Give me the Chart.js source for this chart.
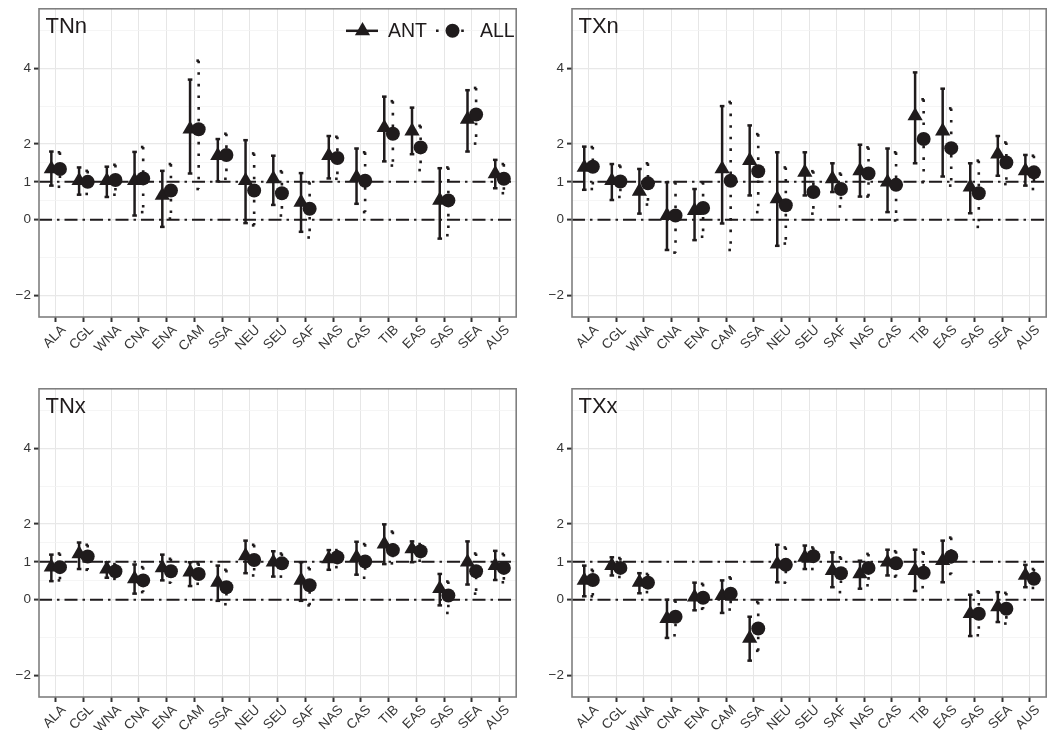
<!DOCTYPE html>
<html>
<head>
<meta charset="utf-8">
<script src="https://cdn.jsdelivr.net/npm/chart.js@4/dist/chart.umd.min.js"></script>
<style>
  html, body { margin: 0; padding: 0; background: #fff; }
  #wrap { position: relative; width: 1055px; height: 730px; }
  canvas { position: absolute; }
</style>
</head>
<body>
<div id="wrap">
  <canvas id="pTNn" width="525" height="365" style="left:0;top:0"></canvas>
  <canvas id="pTXn" width="525" height="365" style="left:530px;top:0"></canvas>
  <canvas id="pTNx" width="525" height="350" style="left:0;top:380px"></canvas>
  <canvas id="pTXx" width="525" height="350" style="left:530px;top:380px"></canvas>
</div>
<script>
// ----- data -----
const regions = ['ALA', 'CGL', 'WNA', 'CNA', 'ENA', 'CAM', 'SSA', 'NEU', 'SEU', 'SAF', 'NAS', 'CAS', 'TIB', 'EAS', 'SAS', 'SEA', 'AUS'];
const yMajor = [-2, 0, 1, 2, 4];
const yMinor = [-1, 0.5, 1.5, 3, 5];
const refLines = [0, 1];

// TNn
const tnnAnt   = [1.34, 1.03, 1.03, 1.03, 0.64, 2.39, 1.69, 1.03, 1.08, 0.46, 1.69, 1.12, 2.43, 2.34, 0.51, 2.65, 1.21];
const tnnAntLo = [0.90, 0.66, 0.60, 0.11, -0.19, 1.22, 1.01, -0.09, 0.39, -0.32, 1.09, 0.42, 1.54, 1.73, -0.50, 1.80, 0.83];
const tnnAntHi = [1.80, 1.38, 1.40, 1.79, 1.29, 3.70, 2.13, 2.10, 1.69, 1.23, 2.21, 1.88, 3.25, 2.96, 1.36, 3.42, 1.58];
const tnnAll   = [1.34, 1.00, 1.05, 1.09, 0.77, 2.39, 1.71, 0.77, 0.70, 0.29, 1.63, 1.03, 2.27, 1.91, 0.51, 2.78, 1.08];
const tnnAllLo = [0.87, 0.68, 0.66, 0.20, 0.03, 0.81, 1.08, -0.15, 0.11, -0.47, 1.08, 0.20, 1.43, 1.31, -0.41, 2.01, 0.70];
const tnnAllHi = [1.78, 1.29, 1.45, 1.92, 1.47, 4.20, 2.27, 1.75, 1.28, 0.99, 2.19, 1.78, 3.13, 2.48, 1.38, 3.48, 1.47];

// TXn
const txnAnt   = [1.38, 1.03, 0.75, 0.11, 0.24, 1.34, 1.56, 0.55, 1.25, 1.08, 1.29, 0.99, 2.74, 2.34, 0.86, 1.73, 1.29];
const txnAntLo = [0.79, 0.52, 0.16, -0.80, -0.54, -0.10, 0.64, -0.69, 0.64, 0.73, 0.61, 0.20, 1.49, 1.14, 0.17, 1.16, 0.90];
const txnAntHi = [1.93, 1.47, 1.34, 0.99, 0.81, 3.00, 2.49, 1.78, 1.78, 1.49, 1.98, 1.88, 3.89, 3.46, 1.49, 2.21, 1.71];
const txnAll   = [1.40, 1.01, 0.96, 0.11, 0.31, 1.03, 1.28, 0.38, 0.73, 0.81, 1.22, 0.92, 2.13, 1.89, 0.70, 1.51, 1.25];
const txnAllLo = [0.81, 0.60, 0.40, -0.87, -0.45, -0.80, 0.20, -0.63, 0.16, 0.35, 0.61, -0.02, 0.99, 0.90, -0.19, 0.94, 0.81];
const txnAllHi = [1.92, 1.43, 1.49, 0.99, 0.99, 3.11, 2.26, 1.38, 1.28, 1.22, 1.91, 1.78, 3.18, 2.94, 1.56, 2.04, 1.69];

// TNx
const tnxAnt   = [0.86, 1.21, 0.81, 0.55, 0.84, 0.73, 0.46, 1.16, 0.99, 0.51, 1.08, 1.12, 1.47, 1.34, 0.29, 0.99, 0.90];
const tnxAntLo = [0.49, 0.81, 0.58, 0.16, 0.51, 0.36, -0.03, 0.70, 0.61, -0.03, 0.79, 0.66, 0.94, 0.99, -0.15, 0.40, 0.52];
const tnxAntHi = [1.19, 1.51, 0.99, 0.93, 1.19, 0.99, 0.90, 1.56, 1.28, 0.99, 1.31, 1.53, 1.99, 1.54, 0.68, 1.54, 1.29];
const tnxAll   = [0.86, 1.14, 0.75, 0.51, 0.75, 0.68, 0.33, 1.05, 0.96, 0.38, 1.12, 1.01, 1.31, 1.28, 0.11, 0.75, 0.84];
const tnxAllLo = [0.51, 0.79, 0.55, 0.20, 0.45, 0.42, -0.12, 0.64, 0.61, -0.15, 0.86, 0.58, 0.96, 1.03, -0.35, 0.16, 0.46];
const tnxAllHi = [1.22, 1.45, 0.94, 0.86, 1.08, 0.96, 0.79, 1.45, 1.22, 0.84, 1.31, 1.47, 1.80, 1.47, 0.48, 1.22, 1.21];

// TXx
const txxAnt   = [0.51, 0.90, 0.46, -0.50, 0.07, 0.11, -1.02, 0.94, 1.12, 0.77, 0.68, 0.99, 0.77, 1.03, -0.37, -0.19, 0.64];
const txxAntLo = [0.09, 0.64, 0.17, -1.01, -0.28, -0.35, -1.61, 0.46, 0.81, 0.33, 0.29, 0.64, 0.23, 0.46, -0.96, -0.59, 0.33];
const txxAntHi = [0.90, 1.12, 0.70, 0.00, 0.45, 0.51, -0.45, 1.45, 1.43, 1.25, 1.03, 1.32, 1.32, 1.56, 0.13, 0.20, 0.92];
const txxAll   = [0.52, 0.84, 0.45, -0.45, 0.05, 0.16, -0.76, 0.92, 1.15, 0.70, 0.84, 0.96, 0.71, 1.14, -0.37, -0.24, 0.55];
const txxAllLo = [0.09, 0.60, 0.20, -0.94, -0.24, -0.26, -1.35, 0.45, 0.81, 0.20, 0.38, 0.61, 0.33, 0.68, -0.94, -0.63, 0.31];
const txxAllHi = [0.79, 1.10, 0.68, -0.02, 0.42, 0.59, -0.06, 1.38, 1.38, 1.12, 1.21, 1.28, 1.25, 1.64, 0.22, 0.18, 0.81];

// ----- look -----
const INK = '#1f1b1c';
const DODGE = 0.155;
const TRI_R = 8.8;
const DOT_R = 7;
const FONT = "'Liberation Sans', Arial, Helvetica, sans-serif";

Chart.defaults.font.family = FONT;
Chart.defaults.animation = false;

function fmtTick(v) {
  if (!yMajor.includes(v)) return '';
  return v < 0 ? '\u2212' + Math.abs(v) : String(v);
}

function drawBar(ctx, px, top, bot, dotted) {
  const w = 2.3;
  ctx.setLineDash(dotted ? [2.6, 9] : []);
  ctx.lineWidth = dotted ? 2.6 : 2.5;
  // top cap, stem, bottom cap (separate paths like ggplot)
  [[px - w, top, px + w, top], [px, top, px, bot], [px - w, bot, px + w, bot]].forEach(s => {
    ctx.beginPath();
    ctx.moveTo(s[0], s[1]);
    ctx.lineTo(s[2], s[3]);
    ctx.stroke();
  });
}

function makePanel(id, cfg) {
  const panelPlugin = {
    id: 'panelDecor',
    beforeDatasetsDraw(chart) {
      const { ctx, chartArea: a } = chart;
      const xs = chart.scales.x, ys = chart.scales.y;
      ctx.save();
      ctx.strokeStyle = INK;
      ctx.lineCap = 'butt';
      // reference lines
      ctx.lineWidth = 2;
      ctx.setLineDash([13, 5, 2.5, 5]);
      refLines.forEach(v => {
        const py = ys.getPixelForValue(v);
        ctx.beginPath();
        ctx.moveTo(a.left, py);
        ctx.lineTo(a.right, py);
        ctx.stroke();
      });
      // error bars
      regions.forEach((r, i) => {
        drawBar(ctx, xs.getPixelForValue(i + 1 - DODGE),
          ys.getPixelForValue(cfg.antHi[i]), ys.getPixelForValue(cfg.antLo[i]), false);
        drawBar(ctx, xs.getPixelForValue(i + 1 + DODGE),
          ys.getPixelForValue(cfg.allHi[i]), ys.getPixelForValue(cfg.allLo[i]), true);
      });
      ctx.restore();
    },
    afterDraw(chart) {
      const { ctx, chartArea: a } = chart;
      ctx.save();
      // panel border
      ctx.strokeStyle = '#7f7f7f';
      ctx.lineWidth = 1.6;
      ctx.setLineDash([]);
      ctx.strokeRect(a.left, a.top, a.right - a.left, a.bottom - a.top);
      // panel label
      ctx.fillStyle = INK;
      ctx.font = '22px ' + FONT;
      ctx.textBaseline = 'alphabetic';
      ctx.fillText(cfg.title, a.left + 6.5, a.top + 24.5);
      if (cfg.legend) {
        const ly = a.top + 22;
        ctx.strokeStyle = INK;
        ctx.fillStyle = INK;
        ctx.lineWidth = 2.5;
        ctx.beginPath();
        ctx.moveTo(346, ly);
        ctx.lineTo(378, ly);
        ctx.stroke();
        Chart.helpers.drawPoint(ctx, { pointStyle: 'triangle', radius: TRI_R, rotation: 0, borderWidth: 0 }, 362.5, ly);
        ctx.lineWidth = 2.6;
        ctx.setLineDash([2.6, 10]);
        ctx.beginPath();
        ctx.moveTo(436, ly);
        ctx.lineTo(466, ly);
        ctx.stroke();
        ctx.setLineDash([]);
        Chart.helpers.drawPoint(ctx, { pointStyle: 'circle', radius: DOT_R, rotation: 0, borderWidth: 0 }, 452.5, ly);
        ctx.font = '19.5px ' + FONT;
        ctx.textBaseline = 'middle';
        ctx.fillText('ANT', 388, ly + 1);
        ctx.fillText('ALL', 480, ly + 1);
      }
      ctx.restore();
    }
  };

  return new Chart(document.getElementById(id), {
    type: 'scatter',
    data: {
      datasets: [
        {
          label: 'ALL',
          data: regions.map((r, i) => ({ x: i + 1 + DODGE, y: cfg.all[i] })),
          pointStyle: 'circle',
          pointRadius: DOT_R,
          pointBackgroundColor: INK,
          pointBorderWidth: 0,
        },
        {
          label: 'ANT',
          data: regions.map((r, i) => ({ x: i + 1 - DODGE, y: cfg.ant[i] })),
          pointStyle: 'triangle',
          pointRadius: TRI_R,
          pointBackgroundColor: INK,
          pointBorderWidth: 0,
        },
      ],
    },
    options: {
      responsive: false,
      events: [],
      layout: { padding: { top: 7, right: cfg.padRight, left: 0, bottom: 0 } },
      plugins: { legend: { display: false }, tooltip: { enabled: false } },
      scales: {
        x: {
          type: 'linear',
          min: 0.4,
          max: 17.6,
          afterBuildTicks: axis => { axis.ticks = regions.map((r, i) => ({ value: i + 1 })); },
          afterFit: axis => { axis.height = cfg.xAxisH; },
          border: { display: false },
          grid: { color: '#e6e6e6', lineWidth: 1, tickColor: '#333', tickWidth: 2, tickLength: 5 },
          ticks: {
            autoSkip: false,
            maxRotation: 45,
            minRotation: 45,
            padding: 0,
            labelOffset: 8,
            color: '#363636',
            font: { size: 13.5 },
            callback: v => regions[v - 1],
          },
        },
        y: {
          min: -2.57,
          max: 5.57,
          afterBuildTicks: axis => {
            axis.ticks = yMajor.concat(yMinor).sort((p, q) => p - q).map(v => ({ value: v }));
          },
          afterFit: axis => {
            axis.width = cfg.yAxisW;
            // tick labels sit well inside the range, no extra room needed
            axis.paddingTop = 0;
            axis.paddingBottom = 0;
          },
          border: { display: false },
          grid: {
            color: c => yMajor.includes(c.tick.value) ? '#e8e8e8' : '#f3f3f3',
            lineWidth: c => yMajor.includes(c.tick.value) ? 1.2 : 0.8,
            tickColor: c => yMajor.includes(c.tick.value) ? '#333' : 'rgba(0,0,0,0)',
            tickWidth: 2,
            tickLength: 5,
          },
          ticks: {
            autoSkip: false,
            padding: 3,
            color: '#363636',
            font: { size: 13.5 },
            callback: v => fmtTick(v),
          },
        },
      },
    },
    plugins: [panelPlugin],
  });
}

makePanel('pTNn', { title: 'TNn', legend: true, yAxisW: 39, padRight: 5, xAxisH: 48,
  ant: tnnAnt, antLo: tnnAntLo, antHi: tnnAntHi, all: tnnAll, allLo: tnnAllLo, allHi: tnnAllHi });
makePanel('pTXn', { title: 'TXn', legend: false, yAxisW: 42, padRight: 2, xAxisH: 48,
  ant: txnAnt, antLo: txnAntLo, antHi: txnAntHi, all: txnAll, allLo: txnAllLo, allHi: txnAllHi });
makePanel('pTNx', { title: 'TNx', legend: false, yAxisW: 39, padRight: 5, xAxisH: 33,
  ant: tnxAnt, antLo: tnxAntLo, antHi: tnxAntHi, all: tnxAll, allLo: tnxAllLo, allHi: tnxAllHi });
makePanel('pTXx', { title: 'TXx', legend: false, yAxisW: 42, padRight: 2, xAxisH: 33,
  ant: txxAnt, antLo: txxAntLo, antHi: txxAntHi, all: txxAll, allLo: txxAllLo, allHi: txxAllHi });
</script>
</body>
</html>
